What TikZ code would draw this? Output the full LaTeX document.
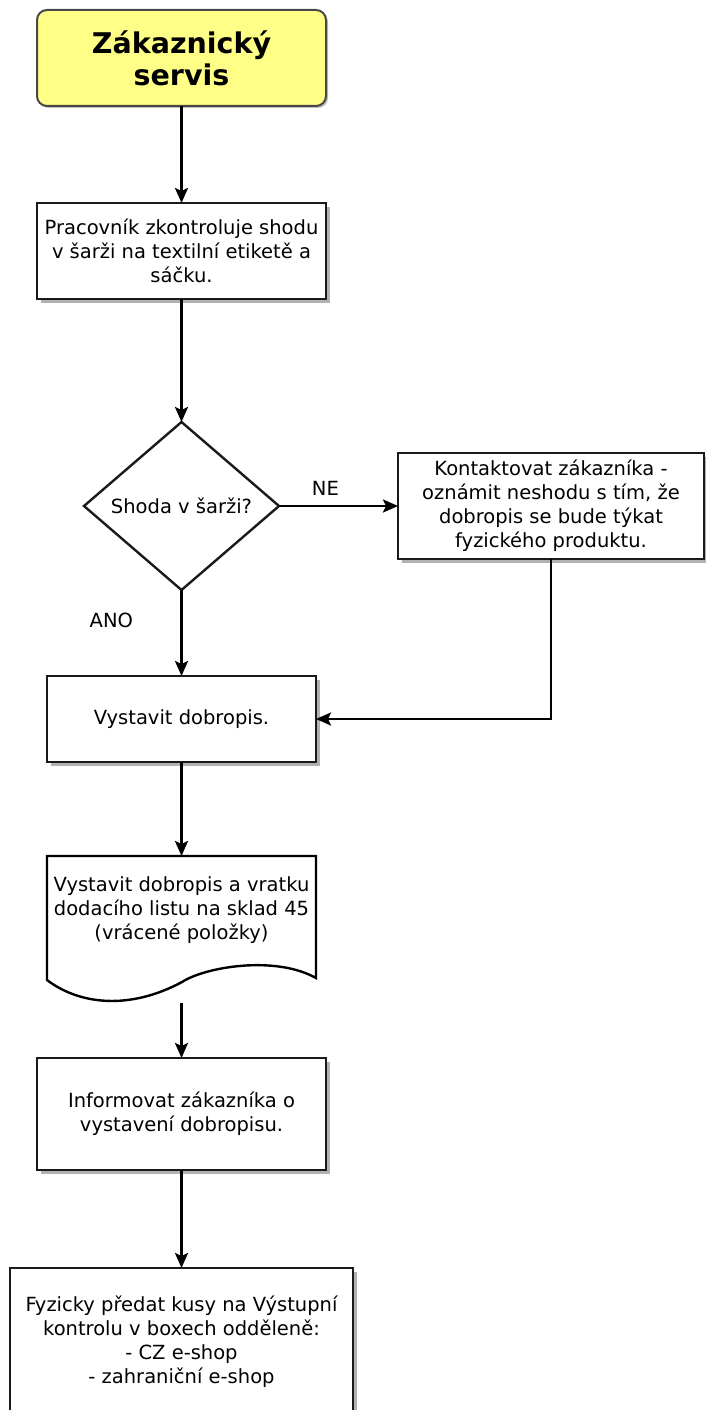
\documentclass[tikz,border=0pt]{standalone}
\usepackage{fontspec}
\setmainfont{DejaVu Sans}
\usetikzlibrary{arrows.meta,positioning,shapes.geometric,shadows,calc}
\definecolor{zsyellow}{HTML}{FFFF88}
\definecolor{zsline}{HTML}{1A1A1A}
\newcommand{\txt}{\fontsize{19.5}{24}\selectfont}
\tikzset{
  hdr/.style={rectangle, rounded corners=10pt, draw=zsline!80, fill=zsyellow,
              line width=2pt, outer sep=0pt, align=center,
              font=\fontsize{28.5}{32}\selectfont\bfseries,
              drop shadow={shadow xshift=2pt, shadow yshift=-2pt, fill=black, opacity=.25}},
  block/.style={rectangle, draw=zsline, fill=white, line width=2.4pt, outer sep=0pt,
                align=center, font=\txt, inner sep=1pt,
                drop shadow={shadow xshift=4pt, shadow yshift=-4pt, fill=black, opacity=.3}},
  dec/.style={diamond, draw=zsline, fill=white, line width=2.4pt, aspect=1.16,
              outer sep=0pt, align=center, font=\txt, inner sep=1pt},
  doctext/.style={rectangle, align=center, font=\txt, inner sep=0pt},
  lbl/.style={font=\txt},
  ar/.style={-{Stealth[length=15pt,width=13pt,inset=3pt]}, draw=black, line width=2.4pt},
}

\begin{document}
\begin{tikzpicture}[x=1pt,y=-1pt]
\useasboundingbox (0,0) rectangle (705,1410);

\node[hdr,minimum width=289,minimum height=96,anchor=north west] (zs) at (37,10)
   {Zákaznický\\servis};
\node[block,minimum width=289,minimum height=96,anchor=north west] (prac) at (37,203)
   {Pracovník zkontroluje shodu\\v šarži na textilní etiketě a\\sáčku.};
\node[dec,minimum width=195,minimum height=168] (shoda) at (181.5,506)
   {Shoda v šarži?};
\node[block,minimum width=306,minimum height=106,anchor=north west] (kont) at (398,453)
   {Kontaktovat zákazníka -\\oznámit neshodu s tím, že\\dobropis se bude týkat\\fyzického produktu.};
\node[block,minimum width=269,minimum height=86,anchor=north west] (vyst) at (47,676)
   {Vystavit dobropis.};

% dokument s vlnou
\draw[line width=2.4pt,fill=white] (47,856) -- (316,856) -- (316,978)
   .. controls (275,955) and (205,967) .. (182,982)
   .. controls (130,1010) and (80,1005) .. (47,980) -- cycle;
\node[doctext,anchor=north] (dokl) at (181.5,876)
   {Vystavit dobropis a vratku\\dodacího listu na sklad 45\\(vrácené položky)};
\coordinate (doktop) at (181.5,856);
\coordinate (dokbot) at (181.5,1003);

\node[block,minimum width=289,minimum height=112,anchor=north west] (info) at (37,1058)
   {Informovat zákazníka o\\vystavení dobropisu.};
\node[block,minimum width=343,minimum height=165,anchor=north west] (pred) at (10,1268) {};
\node[doctext,anchor=north] (predt) at (181.5,1296)
   {Fyzicky předat kusy na Výstupní\\kontrolu v boxech odděleně:\\- CZ e-shop\\- zahraniční e-shop};

% spojnice
\draw[ar] (zs.south) -- (prac.north);
\draw[ar] (prac.south) -- (shoda.north);
\draw[ar] (shoda.east) -- (kont.west)
   node[lbl,pos=0.39,above=6pt]{NE};
\draw[ar] (shoda.south) -- (vyst.north)
   node[lbl,pos=0.35,left=44pt]{ANO};
\draw[ar] (kont.south) |- (vyst.east);
\draw[ar] (vyst.south) -- (doktop);
\draw[ar] (dokbot) -- (info.north);
\draw[ar] (info.south) -- (pred.north);
\end{tikzpicture}
\end{document}
